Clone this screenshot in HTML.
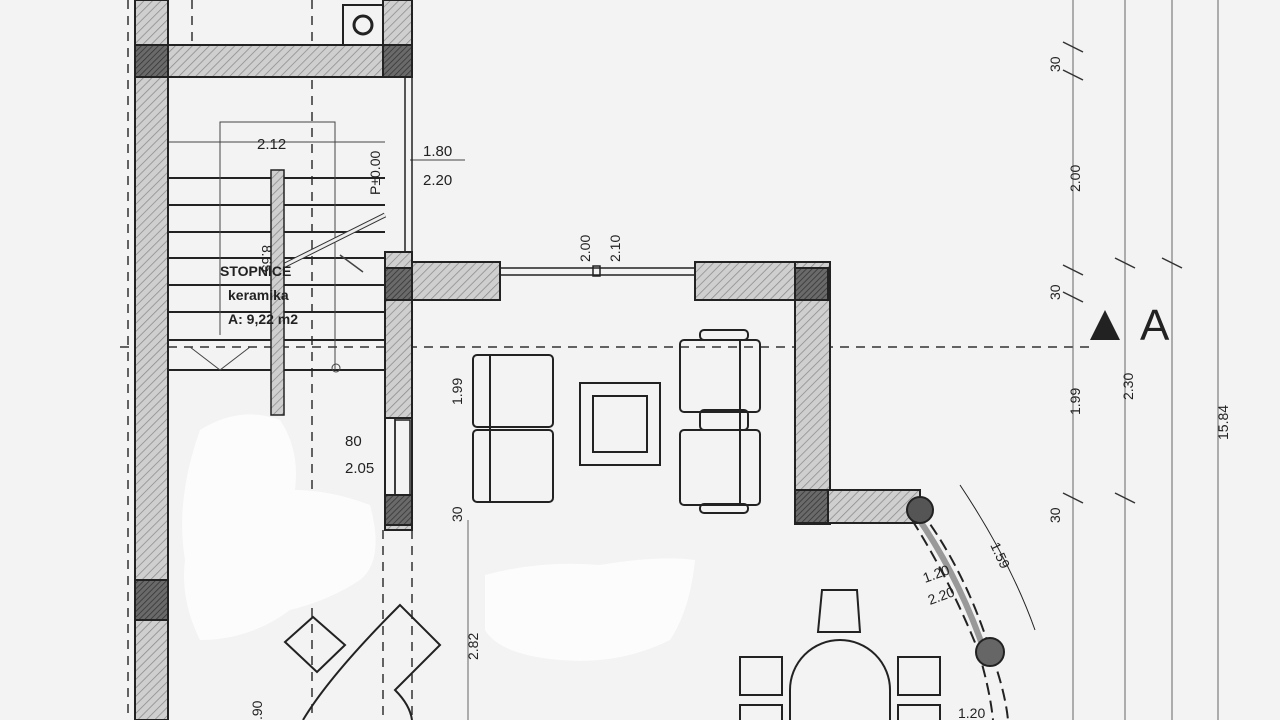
<!DOCTYPE html>
<html><head><meta charset="utf-8"><style>
html,body{margin:0;padding:0;background:#f3f3f3;}
svg{display:block;}
text{font-family:"Liberation Sans",sans-serif;fill:#222;}
</style></head><body>
<svg width="1280" height="720" viewBox="0 0 1280 720" xmlns="http://www.w3.org/2000/svg">
<defs>
<pattern id="h" width="6" height="6" patternUnits="userSpaceOnUse" patternTransform="rotate(45)">
<rect width="6" height="6" fill="#cfcfcf"/><line x1="0" y1="0" x2="0" y2="6" stroke="#8a8a8a" stroke-width="1.5"/></pattern>
<pattern id="d" width="4" height="4" patternUnits="userSpaceOnUse" patternTransform="rotate(45)">
<rect width="4" height="4" fill="#6a6a6a"/><line x1="0" y1="0" x2="0" y2="4" stroke="#333" stroke-width="1.5"/></pattern>
</defs>
<rect width="1280" height="720" fill="#f3f3f3"/>

<!-- dashed construction lines -->
<g stroke="#333" stroke-width="1.5" stroke-dasharray="9,7" fill="none">
<line x1="128" y1="0" x2="128" y2="720"/>
<line x1="192" y1="0" x2="192" y2="60"/>
<line x1="312" y1="0" x2="312" y2="720"/>
<line x1="383" y1="530" x2="383" y2="720"/>
<line x1="412" y1="530" x2="412" y2="720"/>
<line x1="120" y1="347" x2="1090" y2="347"/>
</g>
<g stroke="#666" stroke-width="1" fill="none">
<line x1="1073" y1="0" x2="1073" y2="720"/>
<line x1="1125" y1="0" x2="1125" y2="720"/>
<line x1="1172" y1="0" x2="1172" y2="720"/>
<line x1="1218" y1="0" x2="1218" y2="720"/>
<line x1="468" y1="520" x2="468" y2="720"/>
</g>

<!-- stairs -->
<g stroke="#222" stroke-width="2">
<line x1="168" y1="178" x2="385" y2="178"/>
<line x1="168" y1="205" x2="385" y2="205"/>
<line x1="168" y1="232" x2="385" y2="232"/>
<line x1="168" y1="258" x2="385" y2="258"/>
<line x1="168" y1="285" x2="385" y2="285"/>
<line x1="168" y1="312" x2="385" y2="312"/>
<line x1="168" y1="340" x2="385" y2="340"/>
<line x1="168" y1="370" x2="385" y2="370"/>
</g>
<g stroke="#444" stroke-width="1" fill="none">
<line x1="168" y1="142" x2="385" y2="142"/>
<polyline points="220,335 220,122 335,122 335,370"/>
<polyline points="190,347 220,370 250,347"/>
<line x1="285" y1="265" x2="385" y2="215" stroke-width="5" stroke="#333"/>
<line x1="285" y1="265" x2="385" y2="215" stroke-width="3" stroke="#eee"/>
<line x1="340" y1="255" x2="363" y2="272" stroke-width="1.5"/>
<circle cx="336" cy="368" r="4"/>
<line x1="410" y1="160" x2="465" y2="160"/>
</g>
<rect x="271" y="170" width="13" height="245" fill="url(#h)" stroke="#222" stroke-width="1.5"/>

<!-- walls -->
<g stroke="#222" stroke-width="2">
<rect x="135" y="0" width="33" height="720" fill="url(#h)"/>
<rect x="135" y="580" width="33" height="40" fill="url(#d)"/>
<rect x="135" y="45" width="277" height="32" fill="url(#h)"/>
<rect x="135" y="45" width="33" height="32" fill="url(#d)"/>
<rect x="383" y="0" width="29" height="77" fill="url(#h)"/>
<rect x="383" y="45" width="29" height="32" fill="url(#d)"/>
<rect x="343" y="5" width="40" height="40" fill="#f3f3f3"/>
<rect x="385" y="252" width="27" height="278" fill="url(#h)"/>
<rect x="385" y="268" width="27" height="32" fill="url(#d)"/>
<rect x="385" y="495" width="27" height="30" fill="url(#d)"/>
<rect x="385" y="418" width="27" height="77" fill="#f3f3f3"/>
<rect x="412" y="262" width="88" height="38" fill="url(#h)"/>
<rect x="695" y="262" width="135" height="38" fill="url(#h)"/>
<rect x="795" y="268" width="33" height="32" fill="url(#d)"/>
<rect x="795" y="262" width="35" height="262" fill="url(#h)"/>
<rect x="795" y="268" width="33" height="32" fill="url(#d)"/>
<rect x="795" y="490" width="125" height="33" fill="url(#h)"/>
<rect x="795" y="490" width="33" height="33" fill="url(#d)"/>
</g>
<circle cx="363" cy="25" r="9" fill="none" stroke="#222" stroke-width="3"/>
<g stroke="#222" stroke-width="1.5" fill="none">
<line x1="405" y1="77" x2="405" y2="252"/>
<line x1="412" y1="77" x2="412" y2="252"/>
<line x1="395" y1="418" x2="395" y2="495"/>
<rect x="395" y="420" width="15" height="75"/>
<line x1="500" y1="268" x2="695" y2="268"/>
<line x1="500" y1="275" x2="695" y2="275"/>
<rect x="593" y="266" width="7" height="10"/>
</g>
<!-- curved wall -->
<g fill="none" stroke="#222">
<path d="M920,510 Q965,570 990,650 Q1005,690 1008,720" stroke-width="2" stroke-dasharray="12,6"/>
<path d="M912,520 Q950,580 978,650 Q990,690 993,720" stroke-width="2" stroke-dasharray="12,6"/>
<path d="M916,515 Q958,575 984,650" stroke="#999" stroke-width="6"/>
<path d="M960,485 Q1010,560 1035,630" stroke-width="1"/>
</g>
<circle cx="920" cy="510" r="13" fill="#555" stroke="#222" stroke-width="2"/>
<circle cx="990" cy="652" r="14" fill="#666" stroke="#222" stroke-width="2"/>

<!-- furniture -->
<g fill="none" stroke="#222" stroke-width="2">
<rect x="473" y="355" width="80" height="72" rx="4"/>
<rect x="473" y="430" width="80" height="72" rx="4"/>
<line x1="490" y1="355" x2="490" y2="502"/>
<rect x="580" y="383" width="80" height="82"/>
<rect x="593" y="396" width="54" height="56"/>
<rect x="680" y="340" width="80" height="72" rx="4"/>
<rect x="680" y="430" width="80" height="75" rx="4"/>
<rect x="700" y="330" width="48" height="10" rx="4"/>
<rect x="700" y="410" width="48" height="20" rx="4"/>
<rect x="700" y="504" width="48" height="9" rx="4"/>
<line x1="740" y1="340" x2="740" y2="505"/>
<path d="M790,720 L790,690 A50,50 0 0 1 890,690 L890,720"/>
<polygon points="822,590 857,590 860,632 818,632"/>
<rect x="740" y="657" width="42" height="38"/>
<rect x="740" y="705" width="42" height="30"/>
<rect x="898" y="657" width="42" height="38"/>
<rect x="898" y="705" width="42" height="30"/>
<polygon points="285,642 313,617 345,645 317,672"/>
<path d="M303,720 Q330,675 400,605 L440,645 L395,690 Q410,705 412,720"/>
</g>

<!-- white smears -->
<g fill="#fcfcfc">
<path d="M200,430 Q240,405 280,420 Q300,450 295,490 Q330,490 370,505 Q385,560 360,580 Q330,600 290,610 Q250,640 200,640 Q180,600 185,560 Q175,500 200,430Z"/>
<path d="M485,575 Q540,560 600,565 Q660,555 695,560 Q690,610 670,640 Q620,665 560,660 Q500,655 485,630Z"/>
</g>

<!-- texts -->
<g font-size="15">
<text x="257" y="149">2.12</text>
<text x="423" y="156">1.80</text>
<text x="423" y="185">2.20</text>
<text x="345" y="446">80</text>
<text x="345" y="473">2.05</text>
<text x="220" y="276" font-weight="bold" font-size="14">STOPNICE</text>
<text x="228" y="300" font-weight="bold" font-size="14">keramika</text>
<text x="228" y="324" font-weight="bold" font-size="14">A: 9,22 m2</text>
</g>
<g font-size="14">
<text transform="translate(380,195) rotate(-90)">P±0.00</text>
<text transform="translate(590,262) rotate(-90)">2.00</text>
<text transform="translate(620,262) rotate(-90)">2.10</text>
<text transform="translate(462,405) rotate(-90)">1.99</text>
<text transform="translate(462,522) rotate(-90)">30</text>
<text transform="translate(478,660) rotate(-90)">2.82</text>
<text transform="translate(262,720) rotate(-90)">.90</text>
<text transform="translate(262,245) rotate(90)">8.65</text>
<text transform="translate(1060,72) rotate(-90)">30</text>
<text transform="translate(1080,192) rotate(-90)">2.00</text>
<text transform="translate(1060,300) rotate(-90)">30</text>
<text transform="translate(1080,415) rotate(-90)">1.99</text>
<text transform="translate(1133,400) rotate(-90)">2.30</text>
<text transform="translate(1228,440) rotate(-90)">15.84</text>
<text transform="translate(1060,523) rotate(-90)">30</text>
<text transform="translate(990,545) rotate(65)">1.59</text>
<text transform="translate(925,583) rotate(-20)">1.20</text>
<text transform="translate(930,605) rotate(-20)">2.20</text>
<text x="958" y="718">1.20</text>
</g>
<g stroke="#333" stroke-width="1.5">
<line x1="1063" y1="42" x2="1083" y2="52"/><line x1="1063" y1="70" x2="1083" y2="80"/>
<line x1="1063" y1="265" x2="1083" y2="275"/><line x1="1063" y1="292" x2="1083" y2="302"/>
<line x1="1115" y1="258" x2="1135" y2="268"/><line x1="1162" y1="258" x2="1182" y2="268"/>
<line x1="1063" y1="493" x2="1083" y2="503"/><line x1="1115" y1="493" x2="1135" y2="503"/>
</g>
<polygon points="1090,340 1105,310 1120,340" fill="#222"/>
<text x="1140" y="340" font-size="44">A</text>
</svg>
</body></html>
